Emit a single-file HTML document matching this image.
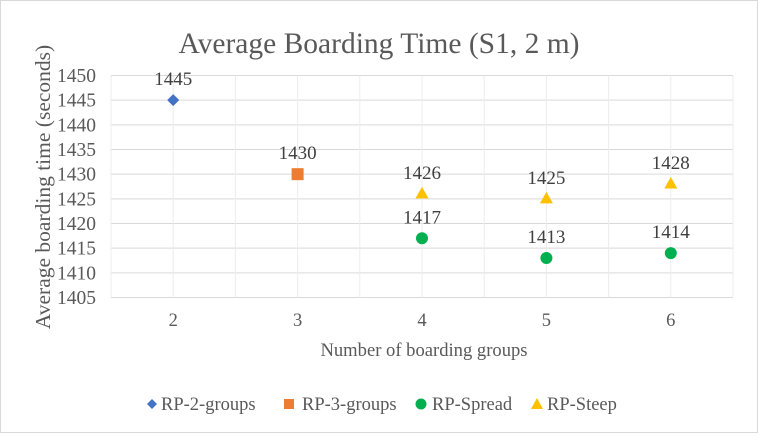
<!DOCTYPE html>
<html><head><meta charset="utf-8"><style>
body{margin:0;background:#fff}
svg{display:block;font-family:"Liberation Serif",serif}
</style></head><body>
<svg width="758" height="433">
<rect x="0.5" y="0.5" width="757" height="432" fill="#fff" stroke="#d9d9d9"/>
<text x="379" y="53" text-anchor="middle" font-size="29.5" fill="#595959">Average Boarding Time (S1, 2 m)</text>
<g id="grid"></g><g id="yt"></g><g id="xt"></g><g id="marks"></g>
<text transform="translate(50,187) rotate(-90)" text-anchor="middle" font-size="21.5" fill="#595959">Average boarding time (seconds)</text>
<text x="424" y="356" text-anchor="middle" font-size="18.6" fill="#595959">Number of boarding groups</text>
<g font-size="18.5" fill="#595959">
<g><path d="M152,399 l5,5 l-5,5 l-5,-5z" fill="#4472c4"/><text x="161" y="410">RP-2-groups</text></g>
<g><rect x="284" y="399" width="10" height="10" fill="#ed7d31"/><text x="302" y="410">RP-3-groups</text></g>
<g><circle cx="421" cy="404" r="5.5" fill="#00b050"/><text x="432" y="410">RP-Spread</text></g>
<g><path d="M537,398 l6,11 h-12z" fill="#ffc000"/><text x="547" y="410">RP-Steep</text></g>
</g>
</svg>
<script>
const categories=[2,3,4,5,6];
const rp2=[[2,1445]];
const rp3=[[3,1430]];
const spread=[[4,1417],[5,1413],[6,1414]];
const steep=[[4,1426],[5,1425],[6,1428]];
const yTicks=[1405,1410,1415,1420,1425,1430,1435,1440,1445,1450];
const L=111,R=733,T=75.5,B=297.5,ymin=1405,ymax=1450;
const bw=(R-L)/categories.length;
const X=v=>L+bw*(categories.indexOf(v)+0.5);
const Y=v=>B-(v-ymin)/(ymax-ymin)*(B-T);
const NS="http://www.w3.org/2000/svg";
function mk(t,a,p){const e=document.createElementNS(NS,t);for(const k in a)e.setAttribute(k,a[k]);document.getElementById(p).appendChild(e);return e;}
yTicks.forEach(v=>{
 const l=mk('line',{x1:L,x2:R,y1:Y(v),y2:Y(v),stroke:'#d9d9d9'},'grid');
 
 
 const t=mk('text',{x:L-15,y:Y(v)+6.5,'text-anchor':'end','font-size':19.5,fill:'#595959'},'yt');t.textContent=v;
 
 
});
for(let i=0;i<=categories.length*2;i++){
 const x=L+bw*i/2;
 const l=mk('line',{x1:x,x2:x,y1:T,y2:B,stroke:'#ececec'},'grid');
 
 
}
categories.forEach(c=>{
 const t=mk('text',{x:X(c),y:326,'text-anchor':'middle','font-size':18.5,fill:'#595959'},'xt');t.textContent=c;
 
 
});
function label(x,y,v){const t=mk('text',{x:x,y:y-15,'text-anchor':'middle','font-size':19,fill:'#404040'},'marks');t.textContent=v;
 
 }
rp2.forEach(([c,v])=>{const x=X(c),y=Y(v);const m=mk('path',{d:`M${x},${y-6}l6,6l-6,6l-6,-6z`,fill:'#4472c4'},'marks');
 
 label(x,y,v);});
rp3.forEach(([c,v])=>{const x=X(c),y=Y(v);const m=mk('rect',{x:x-6,y:y-6,width:12,height:12,fill:'#ed7d31'},'marks');
 
 label(x,y,v);});
spread.forEach(([c,v])=>{const x=X(c),y=Y(v);const m=mk('circle',{cx:x,cy:y,r:6,fill:'#00b050'},'marks');
 
 label(x,y,v);});
steep.forEach(([c,v])=>{const x=X(c),y=Y(v);const m=mk('path',{d:`M${x},${y-7}l6.5,11.5h-13z`,fill:'#ffc000'},'marks');
 
 label(x,y,v);});
</script>
</body></html>
